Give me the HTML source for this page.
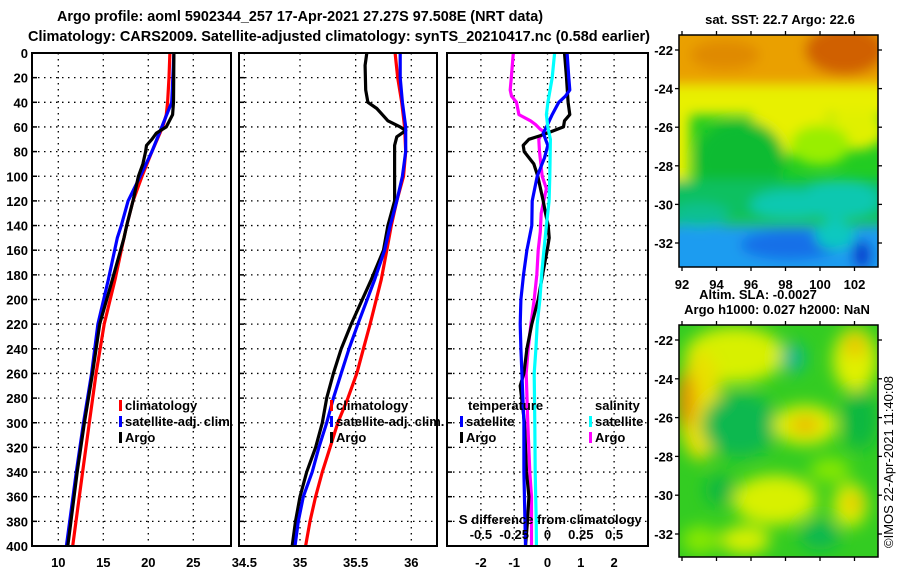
<!DOCTYPE html>
<html><head><meta charset="utf-8">
<style>
html,body{margin:0;padding:0;background:#fff;}
svg{display:block;font-family:"Liberation Sans",Arial,sans-serif;font-weight:bold;}
</style></head>
<body>
<svg id="chart" width="900" height="580" viewBox="0 0 900 580" xmlns="http://www.w3.org/2000/svg">
<defs>
<filter id="blur1" x="-20%" y="-20%" width="140%" height="140%"><feGaussianBlur stdDeviation="6"/></filter>
<filter id="blur2" x="-20%" y="-20%" width="140%" height="140%"><feGaussianBlur stdDeviation="8"/></filter>
<clipPath id="clipTop"><rect x="679" y="35" width="199" height="232"/></clipPath>
<clipPath id="clipBot"><rect x="679" y="325" width="199" height="232"/></clipPath>
<clipPath id="clipP1"><rect x="32" y="53" width="199" height="493"/></clipPath>
<clipPath id="clipP2"><rect x="239" y="53" width="198" height="493"/></clipPath>
<clipPath id="clipP3"><rect x="447" y="53" width="201" height="493"/></clipPath>
</defs>
<text x="57" y="21" font-size="15" textLength="486" lengthAdjust="spacingAndGlyphs">Argo profile: aoml 5902344_257 17-Apr-2021 27.27S 97.508E (NRT data)</text>
<text x="28" y="41" font-size="15" textLength="622" lengthAdjust="spacingAndGlyphs">Climatology: CARS2009. Satellite-adjusted climatology: synTS_20210417.nc (0.58d earlier)</text>

<!-- Top map: SST -->
<g clip-path="url(#clipTop)">
<rect x="679" y="35" width="199" height="232" fill="#22cc22"/>
<g filter="url(#blur1)">
<rect x="660" y="20" width="240" height="70" fill="#eaa000"/>
<ellipse cx="845" cy="50" rx="40" ry="25" fill="#d06000"/>
<ellipse cx="725" cy="55" rx="35" ry="15" fill="#e08a00"/>
<rect x="660" y="85" width="240" height="30" fill="#e8f000"/>
<rect x="660" y="110" width="30" height="70" fill="#e8f000"/>
<ellipse cx="790" cy="125" rx="40" ry="30" fill="#e8f000"/>
<ellipse cx="855" cy="130" rx="30" ry="20" fill="#e0f000"/>
<ellipse cx="820" cy="145" rx="30" ry="20" fill="#99ee00"/>
<ellipse cx="740" cy="160" rx="45" ry="40" fill="#11bb33"/>
<rect x="660" y="180" width="240" height="40" fill="#11c060"/>
<ellipse cx="840" cy="200" rx="40" ry="20" fill="#11c8b0"/>
<ellipse cx="790" cy="205" rx="40" ry="15" fill="#11c8b0"/>
<rect x="660" y="225" width="240" height="60" fill="#1a9cf0"/>
<ellipse cx="790" cy="245" rx="50" ry="15" fill="#1870e8"/>
<ellipse cx="835" cy="235" rx="20" ry="15" fill="#11c8c0"/>
<ellipse cx="862" cy="255" rx="10" ry="15" fill="#1040d0"/>
<ellipse cx="700" cy="215" rx="30" ry="12" fill="#11c090"/>
</g>
</g>
<rect x="679" y="35" width="199" height="232" fill="none" stroke="#000" stroke-width="1.5"/>
<text x="780" y="24" font-size="13" text-anchor="middle">sat. SST: 22.7 Argo: 22.6</text>

<!-- Bottom map: SLA -->
<g clip-path="url(#clipBot)">
<rect x="679" y="325" width="199" height="232" fill="#33cc22"/>
<g filter="url(#blur2)">
<ellipse cx="735" cy="355" rx="50" ry="28" fill="#d8f000"/>
<ellipse cx="700" cy="405" rx="22" ry="55" fill="#e8e000"/>
<ellipse cx="686" cy="400" rx="9" ry="28" fill="#e89000"/>
<ellipse cx="855" cy="360" rx="22" ry="32" fill="#e0f000"/>
<ellipse cx="855" cy="345" rx="10" ry="12" fill="#e8c000"/>
<ellipse cx="740" cy="425" rx="38" ry="32" fill="#11b850"/>
<ellipse cx="793" cy="358" rx="12" ry="15" fill="#11b890"/>
<ellipse cx="805" cy="425" rx="32" ry="20" fill="#e0f000"/>
<ellipse cx="805" cy="425" rx="15" ry="8" fill="#eab000"/>
<ellipse cx="775" cy="500" rx="42" ry="25" fill="#d8f000"/>
<ellipse cx="850" cy="505" rx="17" ry="22" fill="#e0f000"/>
<ellipse cx="853" cy="503" rx="7" ry="8" fill="#e8b000"/>
<ellipse cx="745" cy="540" rx="25" ry="14" fill="#d8f000"/>
<ellipse cx="720" cy="490" rx="15" ry="15" fill="#11b840"/>
<ellipse cx="820" cy="535" rx="20" ry="15" fill="#11b850"/>
<ellipse cx="860" cy="420" rx="18" ry="30" fill="#11b840"/>
<ellipse cx="830" cy="470" rx="20" ry="12" fill="#88e800"/>
<ellipse cx="700" cy="540" rx="18" ry="14" fill="#88e800"/>
</g>
</g>
<rect x="679" y="325" width="199" height="232" fill="none" stroke="#000" stroke-width="1.5"/>
<text x="758" y="299" font-size="13" text-anchor="middle">Altim. SLA: -0.0027</text>
<text x="777" y="314" font-size="13" text-anchor="middle">Argo h1000: 0.027 h2000: NaN</text>
<text transform="translate(893,462) rotate(-90)" font-size="13" font-weight="normal" text-anchor="middle">©IMOS 22-Apr-2021 11:40:08</text>
<g id="dyn"></g>
</svg>
<script>
// ---- data ----
var depthTicks = [0,20,40,60,80,100,120,140,160,180,200,220,240,260,280,300,320,340,360,380,400];
var tTicks = [10,15,20,25];
var sTicks = [34.5,35,35.5,36];
var dTicks = [-2,-1,0,1,2];
var sdTicks = [-0.5,-0.25,0,0.25,0.5];
var sdTickLabels = ["-0.5","-0.25","0","0.25","0.5"];
var latTicks = [-22,-24,-26,-28,-30,-32];
var lonTicks = [92,94,96,98,100,102];

var tClimDepth = [0,20,40,50,60,80,100,120,140,160,184,220,260,300,340,400];
var tClimVal   = [22.4,22.3,22.15,22.0,21.6,20.4,19.3,18.3,17.6,17.0,16.3,15.1,14.2,13.45,12.7,11.6];
var tSatDepth  = [0,40,60,80,100,120,140,150,184,220,260,300,340,400];
var tSatVal    = [22.85,22.6,21.5,20.4,19.1,17.75,17.0,16.55,15.55,14.4,13.7,12.8,12.0,10.9];
var tArgoDepth = [0,40,50,60,65,70,75,80,90,100,120,140,150,184,220,260,300,340,400];
var tArgoVal   = [22.85,22.8,22.7,22.0,20.9,20.4,19.8,19.7,19.4,18.9,18.3,17.6,17.3,16.0,14.6,13.8,12.9,12.1,11.05];

var sClimDepth = [0,20,40,60,80,100,120,140,160,184,220,240,260,280,300,320,340,360,380,400];
var sClimVal   = [35.854,35.878,35.914,35.94,35.95,35.93,35.87,35.82,35.78,35.73,35.63,35.57,35.51,35.43,35.34,35.27,35.20,35.14,35.09,35.05];
var sSatDepth  = [0,20,40,60,80,100,120,140,160,184,220,240,260,280,300,320,340,360,380,400];
var sSatVal    = [35.90,35.90,35.92,35.95,35.95,35.92,35.87,35.81,35.76,35.67,35.52,35.44,35.37,35.30,35.24,35.17,35.11,35.03,34.985,34.955];
var sArgoDepth = [0,10,30,40,45,55,60,63,68,75,100,120,130,140,160,184,220,240,260,280,300,320,340,360,380,400];
var sArgoVal   = [35.60,35.585,35.59,35.61,35.69,35.79,35.90,35.95,35.87,35.85,35.85,35.85,35.82,35.79,35.75,35.64,35.46,35.37,35.30,35.24,35.20,35.14,35.06,35.00,34.96,34.93];

var dTSatDepth = [0,20,30,35,40,50,60,65,75,85,100,120,140,160,180,200,220,240,260,300,340,400];
var dTSatVal   = [0.59,0.64,0.67,0.54,0.34,0.14,-0.03,-0.13,0.01,-0.09,-0.31,-0.46,-0.47,-0.62,-0.72,-0.80,-0.82,-0.80,-0.77,-0.71,-0.71,-0.66];
var dTArgoDepth = [0,20,40,50,55,60,63,67,70,75,80,90,100,110,120,130,140,150,160,180,200,220,240,260,270,300,340,360,380,400];
var dTArgoVal   = [0.51,0.57,0.62,0.67,0.51,0.48,0.19,-0.21,-0.56,-0.73,-0.70,-0.41,-0.29,-0.21,-0.13,-0.06,0.02,0.05,-0.01,-0.15,-0.28,-0.47,-0.62,-0.71,-0.82,-0.69,-0.63,-0.56,-0.60,-0.66];
var dSSatDepth = [0,20,40,50,60,70,100,120,140,160,180,200,220,240,260,300,340,380,400];
var dSSatVal   = [0.053,0.035,0.003,-0.008,0.002,0.022,0.017,0.012,-0.008,-0.027,-0.044,-0.057,-0.077,-0.087,-0.10,-0.095,-0.092,-0.085,-0.083];
var dSArgoDepth = [0,20,30,35,40,50,55,58,62,65,67,70,80,100,110,120,130,145,160,180,200,220,240,260,300,340,360,400];
var dSArgoVal   = [-0.257,-0.272,-0.28,-0.27,-0.233,-0.215,-0.128,-0.09,-0.053,-0.008,-0.05,-0.065,-0.06,-0.04,-0.008,-0.028,-0.047,-0.054,-0.07,-0.08,-0.10,-0.125,-0.145,-0.16,-0.148,-0.133,-0.12,-0.12];

// ---- scales ----
var NS='http://www.w3.org/2000/svg';
var g=document.getElementById('dyn');
function yD(d){return 53+d*1.2325;}
function xT(v){return 58.3+(v-10)*9.0;}
function xS(v){return 300+(v-35)*111.3;}
function xDT(v){return 547.5+v*33.3;}
function xDS(v){return 547.5+v*4*33.3;}
function latY1(l){return 50+(-22-l)/2*38.6;}
function latY2(l){return 340+(-22-l)/2*38.8;}
function lonX(l){return 682+(l-92)/2*34.5;}
function mk(tag,attrs,parent){var e=document.createElementNS(NS,tag);for(var k in attrs)e.setAttribute(k,attrs[k]);(parent||g).appendChild(e);return e;}
function txt(x,y,s,anchor,size,parent){var e=mk('text',{x:x,y:y,'font-size':size||13,'text-anchor':anchor||'start'},parent);e.textContent=s;return e;}

var panels=[{x0:32,x1:231,name:'temperature-panel',clip:'clipP1'},{x0:239,x1:437,name:'salinity-panel',clip:'clipP2'},{x0:447,x1:648,name:'difference-panel',clip:'clipP3'}];
var panelGroups=[];
panels.forEach(function(p){
  var pg=mk('g',{});
  
  
  panelGroups.push(pg);
  depthTicks.forEach(function(d){
    var l=mk('line',{x1:p.x0,x2:p.x1,y1:yD(d),y2:yD(d),stroke:'#000','stroke-width':1.3,'stroke-dasharray':'1.5,4.5'},pg);
    
    
    var t=mk('line',{x1:p.x0,x2:p.x0+5,y1:yD(d),y2:yD(d),stroke:'#000','stroke-width':1.5},pg);
    
    
  });
});
// y labels
depthTicks.forEach(function(d){
  var t=txt(28,yD(d)+5,String(d),'end',13);
  
  
});
function vgrid(pg,x){var l=mk('line',{x1:x,x2:x,y1:53,y2:546,stroke:'#000','stroke-width':1.3,'stroke-dasharray':'1.5,4.5'},pg);
  
  }
tTicks.forEach(function(v){vgrid(panelGroups[0],xT(v));var t=txt(xT(v),567,String(v),'middle',13);
  
  });
sTicks.forEach(function(v){vgrid(panelGroups[1],xS(v));var t=txt(xS(v),567,String(v),'middle',13);
  
  });
dTicks.forEach(function(v){vgrid(panelGroups[2],xDT(v));var t=txt(xDT(v),567,String(v),'middle',13);
  
  });
sdTicks.forEach(function(v,i){var t=txt(xDS(v),539,sdTickLabels[i],'middle',13);
  
  });

function series(pi,depths,vals,sx,color,name){
  var pts=depths.map(function(d,i){return sx(vals[i]).toFixed(1)+','+yD(d).toFixed(1);}).join(' ');
  var e=mk('polyline',{points:pts,fill:'none',stroke:color,'stroke-width':3.2,'stroke-linejoin':'round','clip-path':'url(#'+panels[pi].clip+')'},panelGroups[pi]);
  
  
}
series(0,tClimDepth,tClimVal,xT,'#ff0000','temperature-climatology-line');
series(0,tSatDepth,tSatVal,xT,'#0000ff','temperature-satellite-line');
series(0,tArgoDepth,tArgoVal,xT,'#000000','temperature-argo-line');
series(1,sClimDepth,sClimVal,xS,'#ff0000','salinity-climatology-line');
series(1,sArgoDepth,sArgoVal,xS,'#000000','salinity-argo-line');
series(1,sSatDepth,sSatVal,xS,'#0000ff','salinity-satellite-line');
series(2,dSArgoDepth,dSArgoVal,xDS,'#ff00ff','salinity-argo-difference-line');
series(2,dTArgoDepth,dTArgoVal,xDT,'#000000','temperature-argo-difference-line');
series(2,dTSatDepth,dTSatVal,xDT,'#0000ff','temperature-satellite-difference-line');
series(2,dSSatDepth,dSSatVal,xDS,'#00ffff','salinity-satellite-difference-line');

panels.forEach(function(p){
  var r=mk('rect',{x:p.x0,y:53,width:p.x1-p.x0,height:493,fill:'none',stroke:'#000','stroke-width':2});
  
  
});

// legends
function legendEntry(x,y,color,label,name){
  var m=mk('rect',{x:x,y:y-10,width:3,height:11,fill:color});
  
  
  var t=txt(x+6,y,label,'start',13);
  
  
}
legendEntry(119,410,'#ff0000','climatology','legend-entry-climatology');
legendEntry(119,426,'#0000ff','satellite-adj. clim.','legend-entry-satellite-adj');
legendEntry(119,442,'#000000','Argo','legend-entry-argo');
legendEntry(330,410,'#ff0000','climatology','legend-entry-climatology-2');
legendEntry(330,426,'#0000ff','satellite-adj. clim.','legend-entry-satellite-adj-2');
legendEntry(330,442,'#000000','Argo','legend-entry-argo-2');
var lt=txt(468,410,'temperature','start',13);


var ls=txt(595,410,'salinity','start',13);


legendEntry(460,426,'#0000ff','satellite','legend-entry-temp-satellite');
legendEntry(460,442,'#000000','Argo','legend-entry-temp-argo');
legendEntry(589,426,'#00ffff','satellite','legend-entry-sal-satellite');
legendEntry(589,442,'#ff00ff','Argo','legend-entry-sal-argo');
var sd=txt(459,524,'S difference from climatology','start',13);



// map axes
function mapAxes(yf,y0,y1,showLon){
  latTicks.forEach(function(l){
    var y=yf(l);
    var a=mk('line',{x1:675,x2:679,y1:y,y2:y,stroke:'#000','stroke-width':1.3});
    
    
    var b=mk('line',{x1:878,x2:882,y1:y,y2:y,stroke:'#000','stroke-width':1.3});
    
    
    var t=txt(673,y+5,String(l),'end',13);
    
    
  });
  lonTicks.forEach(function(l){
    var x=lonX(l);
    var a=mk('line',{x1:x,x2:x,y1:y0-4,y2:y0,stroke:'#000','stroke-width':1.3});
    
    
    var b=mk('line',{x1:x,x2:x,y1:y1,y2:y1+4,stroke:'#000','stroke-width':1.3});
    
    
    if(showLon){var t=txt(x,289,String(l),'middle',13);
      
      }
  });
}
mapAxes(latY1,35,267,true);
mapAxes(latY2,325,557,false);
</script>
</body></html>
